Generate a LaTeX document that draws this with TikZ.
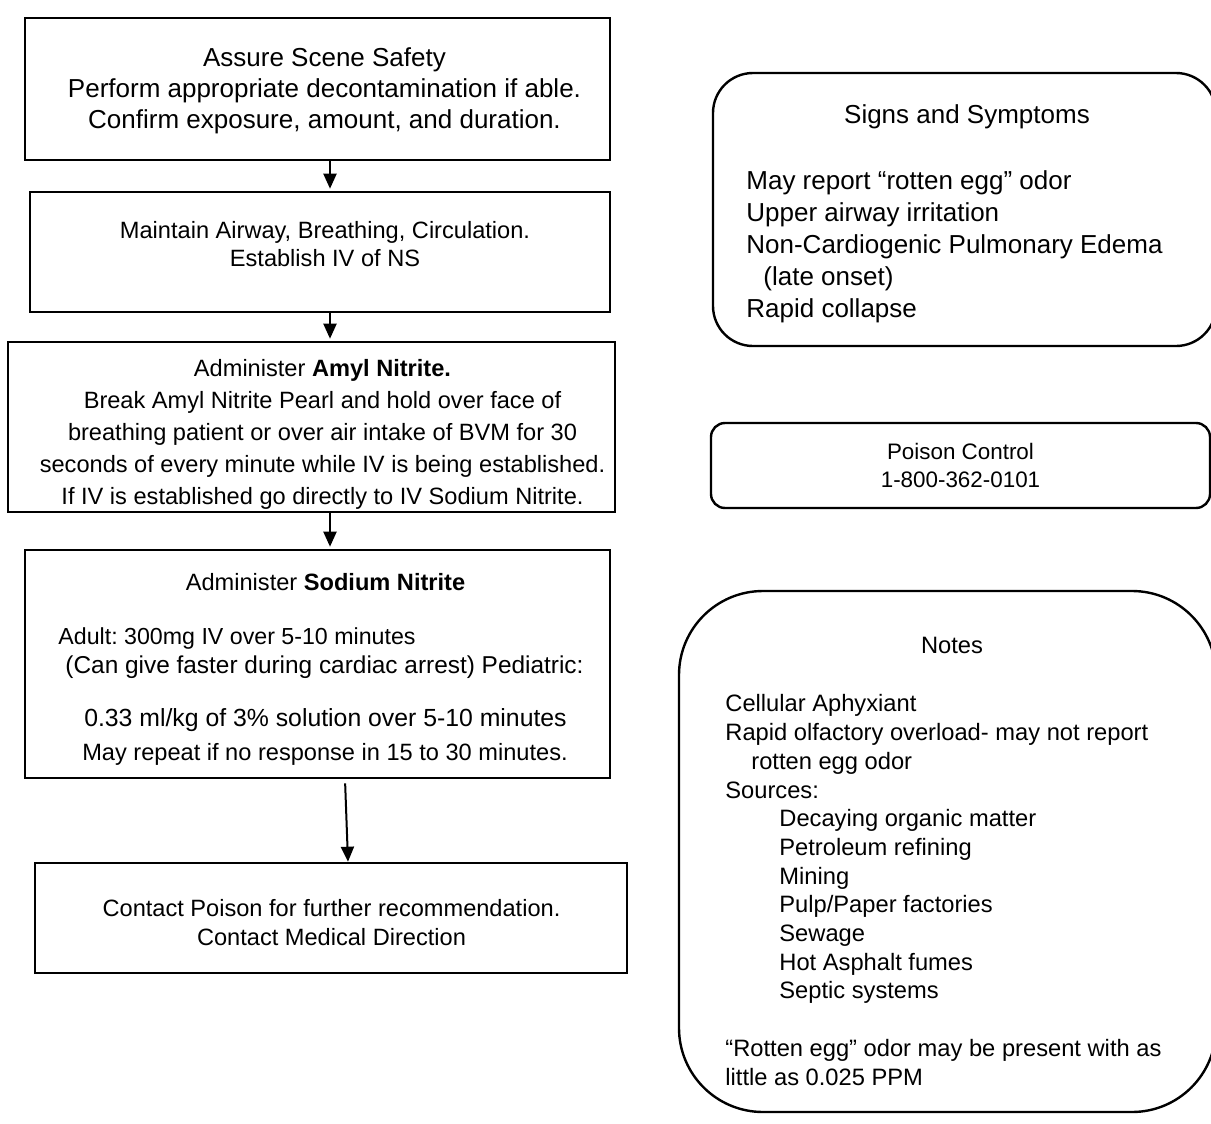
\documentclass[tikz,border=0pt]{standalone}
\usepackage{fontspec}
\setmainfont{Liberation Sans}
\usetikzlibrary{arrows.meta}
\newcommand{\largetxt}{\fontsize{13}{15.5}\selectfont}
\newcommand{\flowtxt}{\fontsize{11.8}{16}\selectfont}
\newcommand{\notetxt}{\fontsize{11.85}{14.35}\selectfont}
\newcommand{\phonetxt}{\fontsize{11.2}{14}\selectfont}
\tikzset{
  flowbox/.style={rectangle,draw=black,line width=1.3pt,inner sep=0pt,align=center},
  sidebox/.style={rectangle,draw=black,line width=1.2pt,inner sep=0pt,align=center},
  boxtext/.style={inner sep=0pt,align=center,font=\flowtxt},
  listtext/.style={inner sep=0pt,align=left,anchor=west},
  arr/.style={-{Triangle[width=6.5pt,length=7.5pt]},line width=1pt}
}
\begin{document}
\frenchspacing
\begin{tikzpicture}[x=0.5pt,y=-0.5pt]
  \useasboundingbox[fill=white] (0,0) rectangle (1211,1124);

  % treatment column
  \node[flowbox,minimum width=292.5pt,minimum height=71pt] (safety) at (317.5,89) {};
  \node[boxtext,font=\largetxt] (safetytxt) at (324.5,91)
      {Assure Scene Safety\\Perform appropriate decontamination if able.\\Confirm exposure, amount, and duration.};
  \node[flowbox,minimum width=290pt,minimum height=60pt] (abc) at (320,252) {};
  \node[boxtext,font={\fontsize{11.8}{14}\selectfont}] (abctxt) at (325,244)
      {Maintain Airway, Breathing, Circulation.\\Establish IV of NS};
  \node[flowbox,minimum width=303.5pt,minimum height=85pt] (amyl) at (311.5,427) {};
  \node[boxtext] (amyltxt) at (322.5,434)
      {Administer \textbf{Amyl Nitrite.}\\Break Amyl Nitrite Pearl and hold over face of\\breathing patient or over air intake of BVM for 30\\seconds of every minute while IV is being established.\\If IV is established go directly to IV Sodium Nitrite.};
  \node[flowbox,minimum width=292.5pt,minimum height=114pt] (sodium) at (317.5,664) {};
  \node[boxtext] (sodtitle) at (325.5,582) {Administer \textbf{Sodium Nitrite}};
  \node[boxtext,anchor=west,font={\fontsize{11.6}{13}\selectfont}] (adult) at (58,638) {Adult: 300mg IV over 5-10 minutes};
  \node[boxtext,font={\fontsize{12.2}{14}\selectfont}] (peds) at (324.5,667) {(Can give faster during cardiac arrest) Pediatric:};
  \node[boxtext,font={\fontsize{12.4}{14}\selectfont}] (dose) at (325.5,720) {0.33 ml/kg of 3\% solution over 5-10 minutes};
  \node[boxtext] (repeat) at (325,754) {May repeat if no response in 15 to 30 minutes.};
  \node[flowbox,minimum width=296pt,minimum height=55pt] (contact) at (331,918) {};
  \node[boxtext,font={\fontsize{11.8}{14.5}\selectfont}] (contacttxt) at (331.5,922.5)
      {Contact Poison for further recommendation.\\Contact Medical Direction};

  \draw[arr,shorten >=1pt] ([xshift=6.25pt]safety.south) -- ([xshift=5pt]abc.north);
  \draw[arr,shorten >=1pt] ([xshift=5pt]abc.south) -- ([xshift=9.25pt]amyl.north);
  \draw[arr,shorten >=1pt] ([xshift=9.25pt]amyl.south) -- ([xshift=6.25pt]sodium.north);
  \draw[arr,shorten <=2pt] ([xshift=13.75pt]sodium.south) -- ([xshift=8.5pt]contact.north);

  % reference column
  \node[sidebox,minimum width=251.5pt,minimum height=136.5pt,rounded corners=20pt] (signs) at (964.5,209.5) {};
  \node[inner sep=0pt,font=\largetxt] (signstitle) at (967,117) {Signs and Symptoms};
  \node[listtext,font={\fontsize{13}{16}\selectfont}] (signslist) at (746,247)
      {May report “rotten egg” odor\\Upper airway irritation\\Non-Cardiogenic Pulmonary Edema\\\hspace*{8.5pt}(late onset)\\Rapid collapse};

  \node[sidebox,minimum width=249.5pt,minimum height=42.5pt,rounded corners=7pt,font=\phonetxt] (poison) at (960.5,465.5)
      {Poison Control\\1-800-362-0101};

  \node[sidebox,minimum width=268.5pt,minimum height=260.5pt,rounded corners=42pt] (notes) at (947.5,851.5) {};
  \node[inner sep=0pt,font=\notetxt] (notestitle) at (952,645) {Notes};
  \node[listtext,font=\notetxt] (noteslist) at (725,890)
      {Cellular Aphyxiant\\Rapid olfactory overload- may not report\\\hspace*{13pt}rotten egg odor\\Sources:\\
       \hspace*{27pt}Decaying organic matter\\\hspace*{27pt}Petroleum refining\\\hspace*{27pt}Mining\\
       \hspace*{27pt}Pulp/Paper factories\\\hspace*{27pt}Sewage\\\hspace*{27pt}Hot Asphalt fumes\\
       \hspace*{27pt}Septic systems\\[14.35pt]“Rotten egg” odor may be present with as\\little as 0.025 PPM};
\end{tikzpicture}
\end{document}
